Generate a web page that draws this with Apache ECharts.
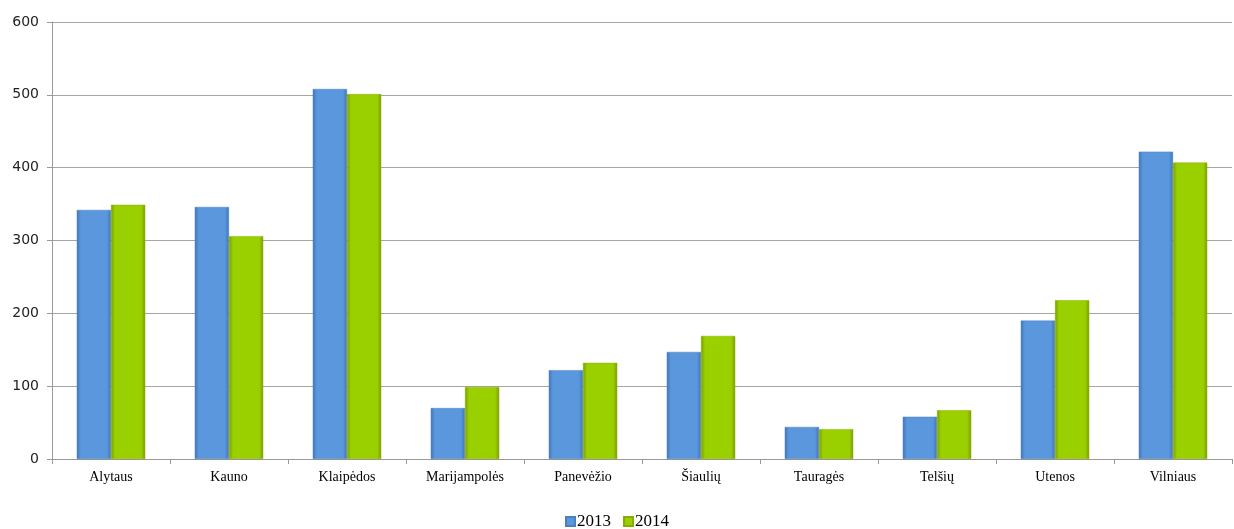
<!DOCTYPE html>
<html><head><meta charset="utf-8">
<script src="https://cdn.jsdelivr.net/npm/echarts@6/dist/echarts.min.js"></script>
<style>html,body{margin:0;padding:0;background:#fff}#c{width:1234px;height:529px}</style>
</head><body><div id="c"></div>
<script>
const categories = ['Alytaus','Kauno','Klaipėdos','Marijampolės','Panevėžio','Šiaulių','Tauragės','Telšių','Utenos','Vilniaus'];
const values2013 = [342, 346, 508, 70, 122, 147, 44, 58, 190, 422];
const values2014 = [349, 306, 501, 99, 132, 169, 41, 67, 218, 407];
const seriesNames = ['2013','2014'];

function grad(edge, mid){
  return new echarts.graphic.LinearGradient(0,0,1,0,[
    {offset:0,color:edge},{offset:0.12,color:mid},{offset:0.88,color:mid},{offset:1,color:edge}
  ]);
}
const chart = echarts.init(document.getElementById('c'), null, {renderer:'canvas'});
const font = 'Liberation Serif, Times New Roman, serif';
chart.setOption({
  animation:false,
  textStyle:{fontFamily:font},
  grid:{left:52,right:2,top:22,bottom:70},
  legend:{top:508,left:'center',icon:'rect',itemWidth:9,itemHeight:9,itemGap:12,
    textStyle:{fontFamily:font,fontSize:17,color:'#000',padding:[0,0,0,-3]},
    data:seriesNames},
  xAxis:{type:'category',data:categories,
    axisLine:{lineStyle:{color:'#999'}},
    axisTick:{show:true,length:5,lineStyle:{color:'#999'}},
    axisLabel:{fontFamily:font,fontSize:14,color:'#000',margin:11,interval:0}},
  yAxis:{type:'value',min:0,max:600,interval:100,
    axisLine:{show:true,lineStyle:{color:'#999'}},
    axisTick:{show:true,length:5,lineStyle:{color:'#999'}},
    splitLine:{lineStyle:{color:'#a6a6a6'}},
    axisLabel:{fontFamily:'DejaVu Sans, sans-serif',fontSize:14,color:'#222',margin:13}},
  series:[
    {name:seriesNames[0],type:'bar',data:values2013,barGap:'0%',barCategoryGap:'42%',
     itemStyle:{color:grad('#3f74b8','#5b97dd'),borderColor:'#4a7fc0',borderWidth:0.5}},
    {name:seriesNames[1],type:'bar',data:values2014,
     itemStyle:{color:grad('#7a9e00','#9bd000'),borderColor:'#86ad00',borderWidth:0.5}}
  ]
});
</script></body></html>
